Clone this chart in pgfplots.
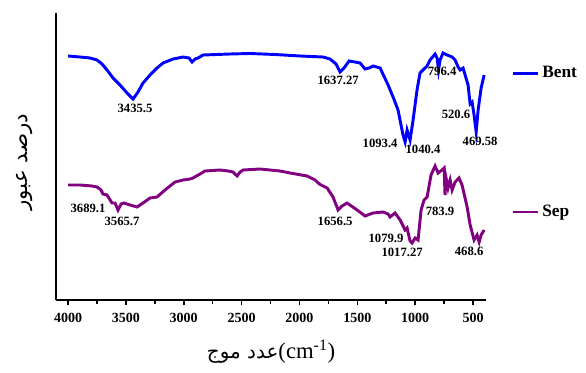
\documentclass[border=0pt]{standalone}
\usepackage{pgfplots}
\pgfplotsset{compat=1.18}
\usepackage{fontspec}
\setmainfont{Liberation Serif}
\newfontfamily\arabicfont[Script=Arabic]{DejaVu Sans}
\TeXXeTstate=1
\definecolor{bentblue}{RGB}{0,0,255}
\definecolor{seppurple}{RGB}{128,0,128}
\begin{document}
\begin{tikzpicture}
\begin{axis}[
  name=ax,
  scale only axis,
  width=322.5pt, height=215.25pt,
  x dir=reverse,
  xmin=388, xmax=4104,
  ymin=0, ymax=287,
  axis x line*=bottom, axis y line*=left,
  axis line style={line width=1.5pt},
  ytick=\empty,
  xtick={500,1000,...,4000},
  minor x tick num=1,
  tick align=outside,
  major tick length=4pt, minor tick length=3pt,
  every tick/.style={line width=1.2pt, black},
  /pgf/number format/assume math mode=true,
  /pgf/number format/set thousands separator={},
  xticklabel style={font=\bfseries\fontsize{10.5}{12}\selectfont, yshift=-2pt},
  xlabel={{\arabicfont\fontsize{15}{17}\selectfont\beginR عدد موج\endR}{\fontsize{17}{18}\selectfont(cm\textsuperscript{-1})}},
  xlabel style={at={(axis description cs:0.5,0)}, anchor=center, yshift=-39pt},
  ylabel={\arabicfont\fontsize{16}{18}\selectfont\beginR درصد عبور\endR},
  ylabel style={at={(axis description cs:-0.072,0.48)}, anchor=center},
  legend style={at={(rel axis cs:1,1)}, anchor=north west, xshift=16pt, yshift=-36pt,
    draw=none, fill=none, font=\bfseries\fontsize{13}{14}\selectfont, row sep=90pt},
  legend cell align=left,
  legend image code/.code={\draw[#1, line width=2pt] (0pt,0pt) -- (19pt,0pt);},
  clip=false,
]
\addplot[bentblue, line width=2.2pt] coordinates {
(4000,244)(3896,243)(3810,242)(3749,240)(3706,236)(3663,230)(3611,222)(3551,215)(3490,207)(3438,201)
(3395,208)(3352,217)(3291,225)(3231,232)(3179,237)(3092,241)(3006,243)(2954,242)(2928,238)(2902,241)
(2876,242)(2833,245)(2600,246)(2427,246.5)(2211,245.5)(1995,244)(1796,243)(1736,241)(1684,236)(1649,228)
(1615,232)(1571,239)(1520,238)(1476,237)(1433,231)(1398,232)(1364,234)(1303,232)(1234,215)(1191,203)
(1148,190)(1105,165)(1087,158)(1070,170)(1044,160)(1018,180)(984,210)(958,227)(932,230)(897,234)
(871,240)(828,246)(811,242)(798,230)(785,240)(759,247)(724,245)(681,243)(655,240)(629,233)
(611,230)(586,232)(543,215)(525,196)(508,198)(491,185)(473,168)(456,190)(430,212)(404,225)
};
\addlegendentry{Bent}
\addplot[seppurple, line width=2.2pt] coordinates {
(4000,115)(3896,115)(3793,114)(3749,113)(3715,110)(3698,106)(3663,105)(3620,97)(3594,97)(3568,90)
(3542,96)(3516,97)(3464,95)(3404,93)(3352,97)(3291,102)(3231,103)(3162,110)(3075,118)(3006,120)
(2946,121)(2920,122)(2859,126)(2816,129)(2686,130)(2617,129)(2574,128)(2539,124)(2513,128)(2487,130)
(2341,131)(2168,129)(2081,127)(1934,124)(1865,120)(1839,117)(1813,115)(1761,112)(1710,103)(1666,90)
(1632,94)(1589,97)(1502,90)(1433,84)(1364,87)(1277,88)(1234,86)(1217,83)(1174,87)(1130,80)
(1087,70)(1070,72)(1044,59)(1027,57)(1001,62)(975,60)(949,90)(923,100)(897,103)(863,125)
(828,134)(802,127)(768,130)(750,132)(742,105)(733,122)(716,112)(698,120)(681,110)(655,118)
(621,122)(595,115)(551,93)(525,75)(491,60)(465,65)(447,58)(430,65)(404,70)
};
\addlegendentry{Sep}
\begin{scope}[every node/.style={font=\bfseries\fontsize{9.5}{10}\selectfont, inner sep=0pt}]
\node at (axis cs:3421,192) {3435.5};
\node at (axis cs:1666,220) {1637.27};
\node at (axis cs:767,229) {796.4};
\node at (axis cs:1303,157) {1093.4};
\node at (axis cs:932,151) {1040.4};
\node at (axis cs:647,186) {520.6};
\node at (axis cs:439,159) {469.58};
\node at (axis cs:3827,92) {3689.1};
\node at (axis cs:3533,79) {3565.7};
\node at (axis cs:1692,79) {1656.5};
\node at (axis cs:1252,62) {1079.9};
\node at (axis cs:1113,48) {1017.27};
\node at (axis cs:785,89) {783.9};
\node at (axis cs:534,49) {468.6};
\end{scope}
\end{axis}
\path (ax.south west) ++(-42pt,-54pt) coordinate (bbA);
\path (ax.north east) ++(75pt,9.75pt) coordinate (bbB);
\pgfresetboundingbox
\path (bbA) rectangle (bbB);
\end{tikzpicture}
\end{document}
